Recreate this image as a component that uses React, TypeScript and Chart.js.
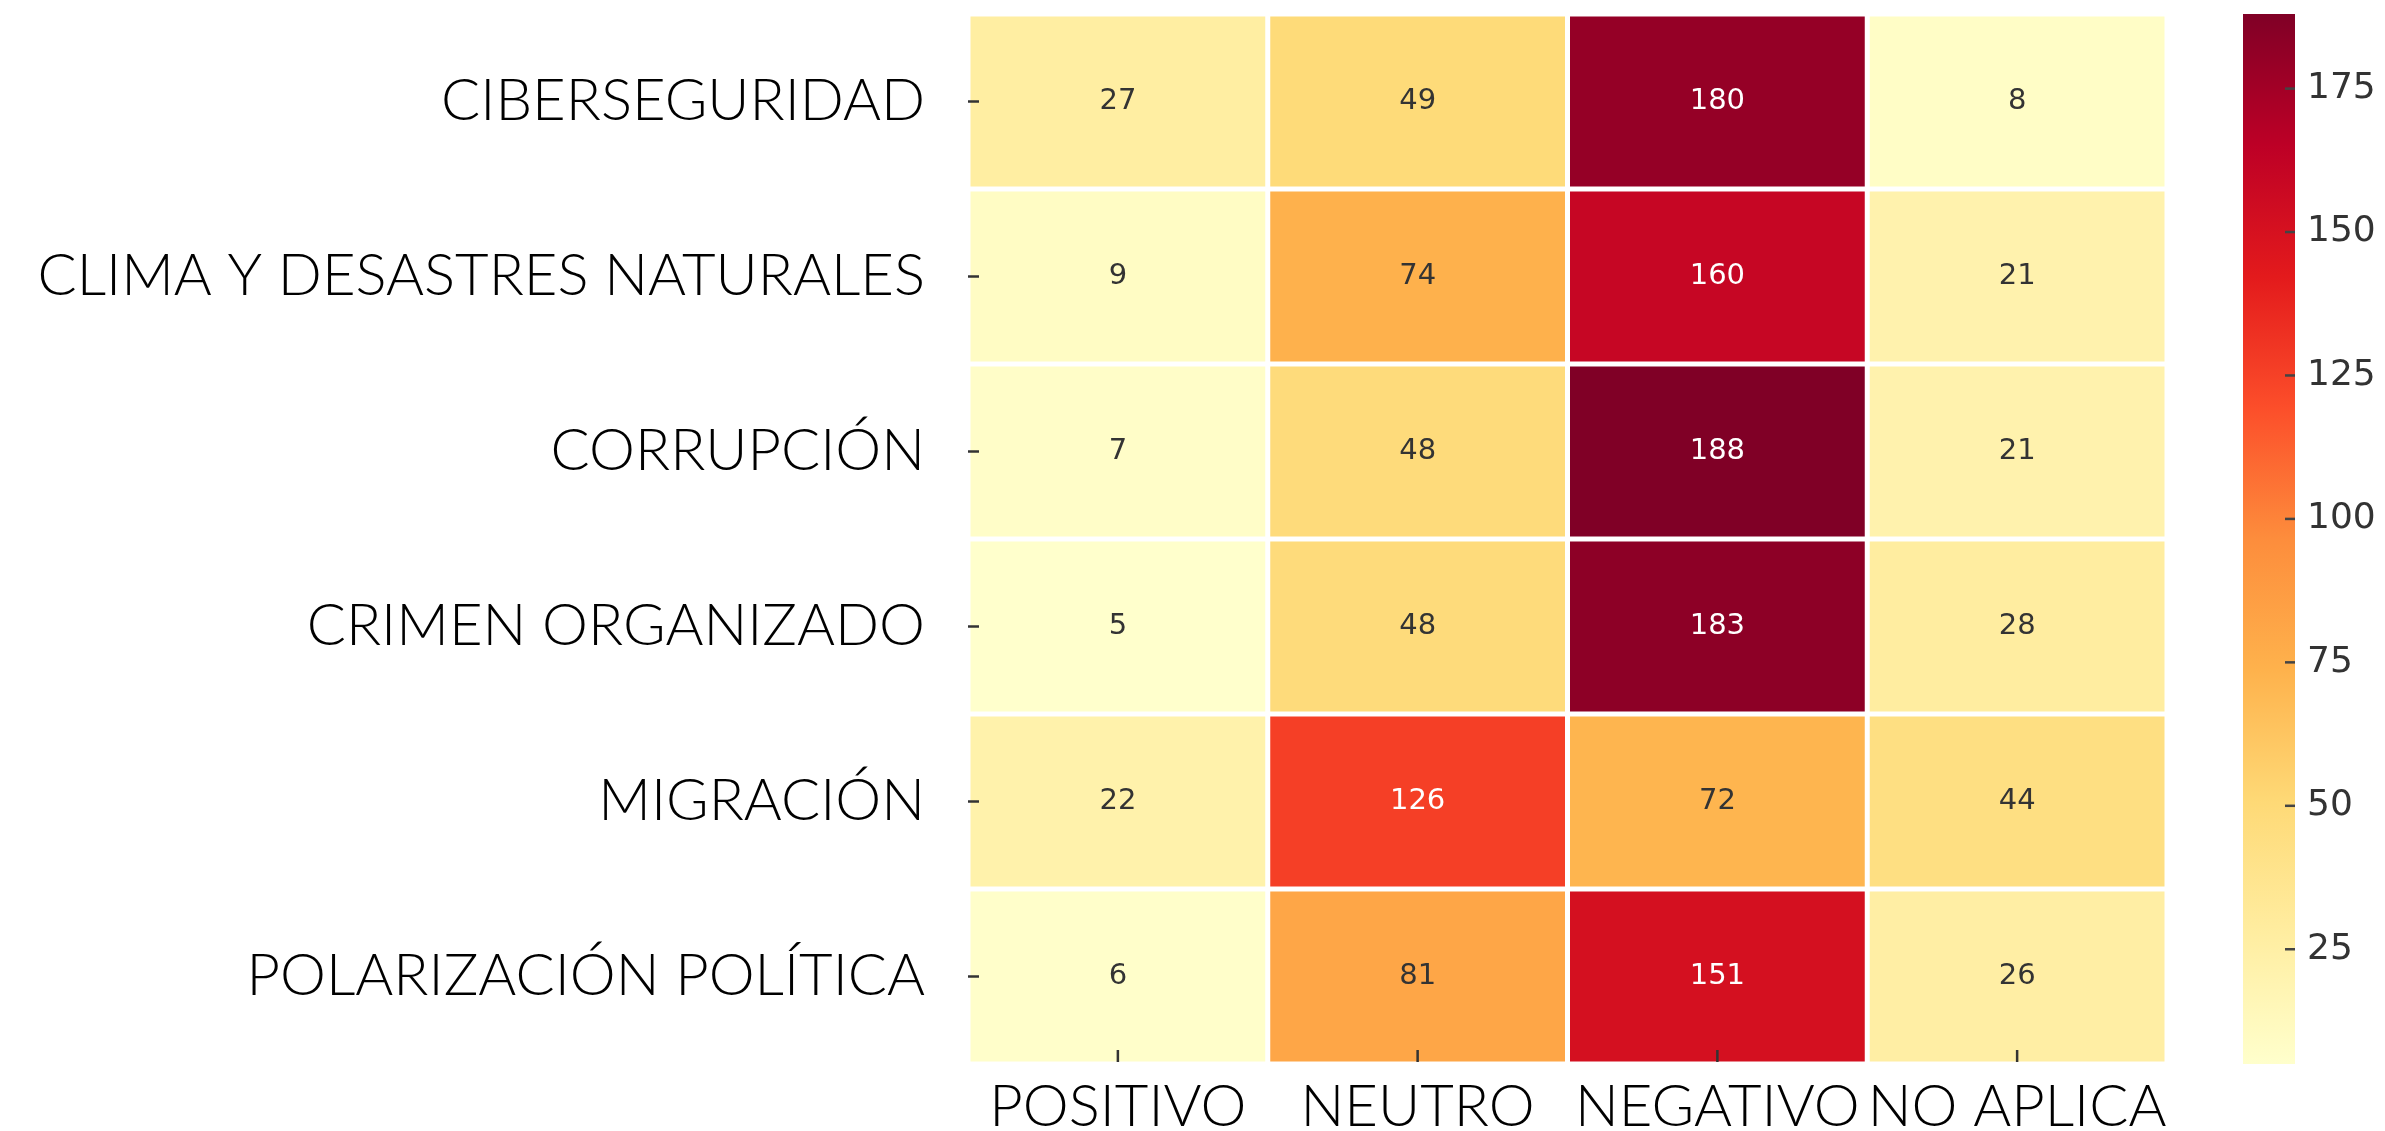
import React, { useEffect, useRef } from "react";
import { Chart, registerables } from "chart.js";

Chart.register(...registerables);

const ROWS = [
  "CIBERSEGURIDAD",
  "CLIMA Y DESASTRES NATURALES",
  "CORRUPCIÓN",
  "CRIMEN ORGANIZADO",
  "MIGRACIÓN",
  "POLARIZACIÓN POLÍTICA",
];
const COLS = ["POSITIVO", "NEUTRO", "NEGATIVO", "NO APLICA"];

const POSITIVO = [27, 9, 7, 5, 22, 6];
const NEUTRO = [49, 74, 48, 48, 126, 81];
const NEGATIVO = [180, 160, 188, 183, 72, 151];
const NO_APLICA = [8, 21, 21, 28, 44, 26];

const SERIES = [POSITIVO, NEUTRO, NEGATIVO, NO_APLICA];
const VMIN = 5;
const VMAX = 188;
const CB_TICKS = [25, 50, 75, 100, 125, 150, 175];

// YlOrRd colormap stops
const YLORRD = [
  "#ffffcc",
  "#ffeda0",
  "#fed976",
  "#feb24c",
  "#fd8d3c",
  "#fc4e2a",
  "#e31a1c",
  "#bd0026",
  "#800026",
];

function hexToRgb(h: string) {
  const n = parseInt(h.slice(1), 16);
  return [(n >> 16) & 255, (n >> 8) & 255, n & 255];
}

function colorFor(v: number) {
  let t = (v - VMIN) / (VMAX - VMIN);
  t = Math.max(0, Math.min(1, t));
  const pos = t * (YLORRD.length - 1);
  const i = Math.min(Math.floor(pos), YLORRD.length - 2);
  const f = pos - i;
  const a = hexToRgb(YLORRD[i]);
  const b = hexToRgb(YLORRD[i + 1]);
  const c = a.map((x, k) => Math.round(x + (b[k] - x) * f));
  return `rgb(${c[0]},${c[1]},${c[2]})`;
}

const zeroPad = (s: any) => {
  s.paddingTop = 0;
  s.paddingBottom = 0;
  s.paddingLeft = 0;
  s.paddingRight = 0;
};

const heatPlugin = {
  id: "heatPlugin",
  beforeDatasetsDraw(chart: any) {
    const ctx = chart.ctx;
    const xs = chart.scales.x;
    const ys = chart.scales.y;
    const cw = xs.width / COLS.length;
    const ch = ys.height / ROWS.length;
    const gap = 2.5;
    const meta = chart.getDatasetMeta(0);
    const data = chart.data.datasets[0].data as any[];
    ctx.save();
    meta.data.forEach((el: any, i: number) => {
      const v = data[i].v;
      ctx.fillStyle = colorFor(v);
      ctx.fillRect(el.x - cw / 2 + gap, el.y - ch / 2 + gap, cw - 2 * gap, ch - 2 * gap);
    });
    // annotations
    ctx.font = "29px 'DejaVu Sans'";
    ctx.textAlign = "center";
    ctx.textBaseline = "middle";
    meta.data.forEach((el: any, i: number) => {
      const v = data[i].v;
      ctx.fillStyle = v > 110 ? "#ffffff" : "#333333";
      ctx.fillText(String(v), el.x, el.y);
    });
    // tick marks
    ctx.strokeStyle = "#333333";
    ctx.lineWidth = 2.5;
    const area = chart.chartArea;
    ROWS.forEach((_, r) => {
      const y = ys.getPixelForValue(r);
      ctx.beginPath();
      ctx.moveTo(area.left, y);
      ctx.lineTo(area.left + 11, y);
      ctx.stroke();
    });
    COLS.forEach((_, c) => {
      const x = xs.getPixelForValue(c);
      ctx.beginPath();
      ctx.moveTo(x, area.bottom - 2);
      ctx.lineTo(x, area.bottom - 14);
      ctx.stroke();
    });
    // colorbar
    const cb = chart.scales.cb;
    const x0 = 2243;
    const x1 = 2295;
    const yTop = cb.getPixelForValue(VMAX);
    const yBot = cb.getPixelForValue(VMIN);
    const grad = ctx.createLinearGradient(0, yBot, 0, yTop);
    YLORRD.forEach((c, k) => grad.addColorStop(k / (YLORRD.length - 1), c));
    ctx.fillStyle = grad;
    ctx.fillRect(x0, yTop, x1 - x0, yBot - yTop);
    ctx.strokeStyle = "#444444";
    ctx.lineWidth = 2.5;
    CB_TICKS.forEach((t) => {
      const y = cb.getPixelForValue(t);
      ctx.beginPath();
      ctx.moveTo(x1 - 10, y);
      ctx.lineTo(x1, y);
      ctx.stroke();
    });
    ctx.restore();
  },
};

export default function App() {
  const ref = useRef<HTMLCanvasElement | null>(null);
  useEffect(() => {
    document.body.style.margin = "0";
    const points: any[] = [];
    ROWS.forEach((r, ri) => {
      COLS.forEach((c, ci) => {
        points.push({ x: c, y: r, v: SERIES[ci][ri] });
      });
    });
    const labelFont = { family: "Lato, 'Open Sans', sans-serif", size: 58, weight: "300" as any };
    const chart = new Chart(ref.current as HTMLCanvasElement, {
      type: "scatter",
      data: {
        datasets: [
          {
            data: points,
            pointRadius: 0,
            pointHoverRadius: 0,
          } as any,
        ],
      },
      options: {
        animation: false,
        responsive: false,
        devicePixelRatio: 1,
        layout: { padding: { top: 14, left: 0, right: 0, bottom: 0 } },
        plugins: { legend: { display: false }, tooltip: { enabled: false } },
        scales: {
          x: {
            type: "category",
            labels: COLS,
            offset: true,
            position: "bottom",
            grid: { display: false, drawTicks: false },
            border: { display: false },
            ticks: { color: "#000000", font: labelFont, padding: 8, maxRotation: 0, autoSkip: false },
            afterFit: (s: any) => {
              s.height = 67;
              zeroPad(s);
            },
          } as any,
          y: {
            type: "category",
            labels: ROWS,
            offset: true,
            position: "left",
            grid: { display: false, drawTicks: false },
            border: { display: false },
            ticks: { color: "#000000", font: labelFont, padding: 43, autoSkip: false },
            afterFit: (s: any) => {
              s.width = 968;
              zeroPad(s);
            },
          } as any,
          cb: {
            type: "linear",
            position: "right",
            min: VMIN,
            max: VMAX,
            grid: { display: false, drawTicks: false },
            border: { display: false },
            afterBuildTicks: (s: any) => {
              s.ticks = CB_TICKS.map((v) => ({ value: v }));
            },
            ticks: {
              color: "#333333",
              font: { family: "'DejaVu Sans'", size: 36 },
              padding: 140,
            },
            afterFit: (s: any) => {
              s.width = 218;
              zeroPad(s);
            },
          } as any,
        },
      },
      plugins: [heatPlugin],
    });
    return () => chart.destroy();
  }, []);
  return (
    <div style={{ width: 2385, height: 1131 }}>
      <canvas ref={ref} width={2385} height={1131} style={{ display: "block" }} />
    </div>
  );
}
